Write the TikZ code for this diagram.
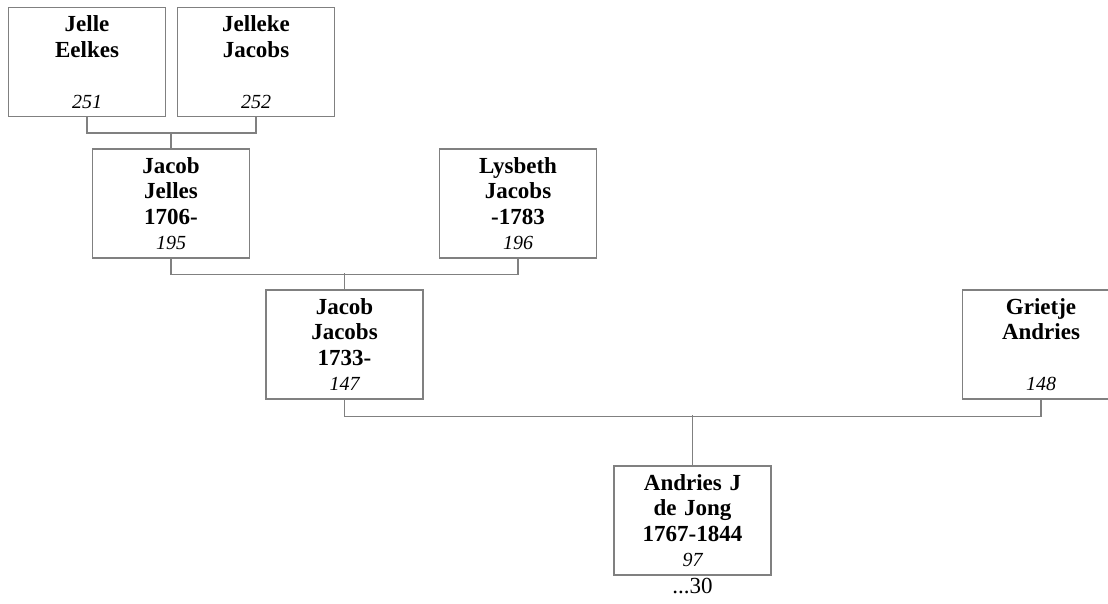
\documentclass[tikz,border=0pt]{standalone}
\usepackage{fontspec}
\setmainfont{Liberation Serif}
\usetikzlibrary{positioning}
\definecolor{boxgray}{RGB}{128,128,128}
\newcommand{\pnum}[1]{{\fontsize{20}{25.5}\selectfont\mdseries\itshape #1}}

\begin{document}
\begin{tikzpicture}[x=1pt, y=-1pt,
    person/.style={rectangle, draw=boxgray, line width=1.2pt, fill=white, minimum width=157pt, minimum height=109pt, inner sep=0pt, text width=150pt, align=center, font=\fontsize{23}{25.5}\selectfont\bfseries},
    link/.style={draw=boxgray, line width=1.2pt}]
    \useasboundingbox (0,0) rectangle (1108,604);

    \node[person] (jelle) at (87,62) {Jelle\\Eelkes\\\mbox{}\\\pnum{251}};
    \node[person] (jelleke) at (256,62) {Jelleke\\Jacobs\\\mbox{}\\\pnum{252}};
    \node[person] (jacobj) at (171,203.5) {Jacob\\Jelles\\1706-\\\pnum{195}};
    \node[person] (lysbeth) at (518,203.5) {Lysbeth\\Jacobs\\-1783\\\pnum{196}};
    \node[person] (jacobjs) at (344.5,344.5) {Jacob\\Jacobs\\1733-\\\pnum{147}};
    \node[person] (grietje) at (1041,344.5) {Grietje\\Andries\\\mbox{}\\\pnum{148}};
    \node[person] (andries) at (692.5,520.5) {Andries J\\de Jong\\1767-1844\\\pnum{97}};
    \node[below=2pt of andries, inner sep=0pt, font=\fontsize{23}{25}\selectfont] (more) {...30};

    % Parent links
    \draw[link] (jelle.south) -- ++(0,16) -| (jelleke.south);
    \draw[link] (jacobj.north) -- ++(0,-16);
    \draw[link] (jacobj.south) -- ++(0,16) -| (lysbeth.south);
    \draw[link] (jacobjs.north) -- ++(0,-16);
    \draw[link] (jacobjs.south) -- ++(0,16.5) -| (grietje.south);
    \draw[link] (andries.north) -- ++(0,-50);
\end{tikzpicture}
\end{document}
